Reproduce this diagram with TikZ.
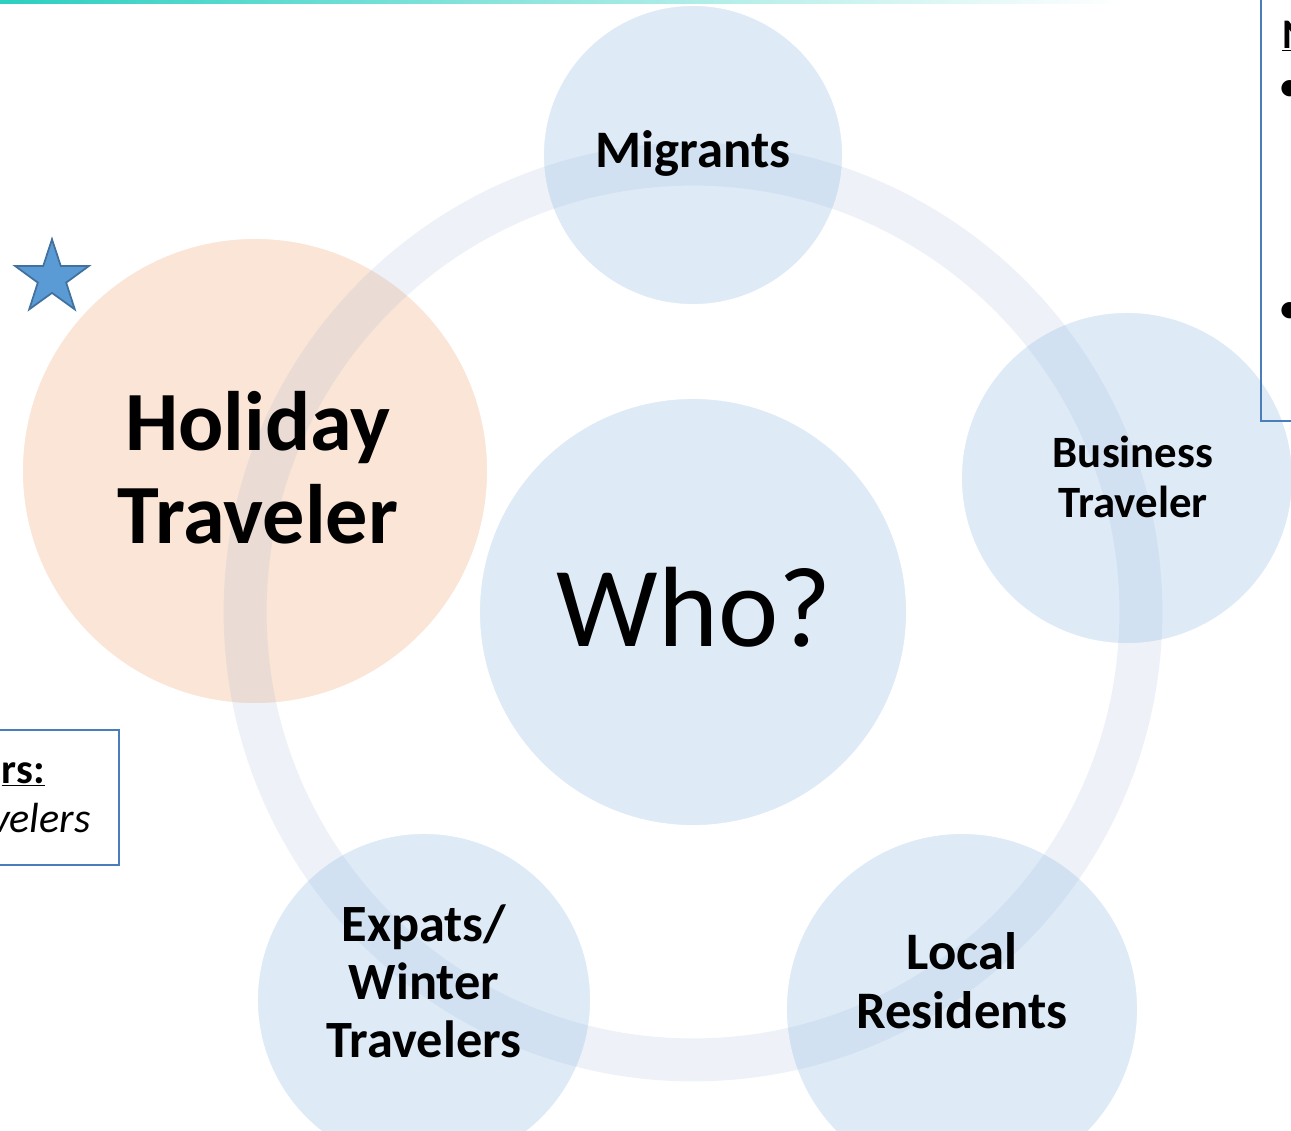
\documentclass[tikz,border=0pt]{standalone}
\usepackage{fontspec}
\setmainfont{Carlito}
\usetikzlibrary{shapes.geometric}
\definecolor{whoblue}{HTML}{DEEBF7}
\definecolor{whopeach}{HTML}{FBE5D6}
\definecolor{whoring}{HTML}{8EA8D0}
\definecolor{whoedge}{HTML}{4A7EBB}
\definecolor{whostar}{HTML}{5B9BD5}
\definecolor{whostardk}{HTML}{41719C}
\definecolor{whoteal}{HTML}{2CCFC0}

\begin{document}
\begin{tikzpicture}[x=0.02cm,y=-0.02cm,
    bub/.style={circle,draw=white,line width=1pt,fill=whoblue,inner sep=0pt},
    lbl/.style={align=center,inner sep=0pt},
    note/.style={draw=whoedge,line width=0.8pt},
    fs/.style 2 args={font=\bfseries\fontsize{#1}{#2}\selectfont}]
  \useasboundingbox (0,0) rectangle (1291,1130);
  \clip (0,0) rectangle (1291,1130);
  \shade[left color=whoteal,right color=white] (0,0) rectangle (1120,3);

  % the six bubbles, then the ring laid over them
  \node[bub,minimum size=8.56cm] (who) at (693,612) {};
  \node[bub,minimum size=6cm] (mig) at (693,155) {};
  \node[bub,minimum size=6.64cm] (bus) at (1127,478) {};
  \node[bub,minimum size=7.04cm] (loc) at (962,1009) {};
  \node[bub,minimum size=6.68cm] (exp) at (424,1000) {};
  \node[bub,fill=whopeach,minimum size=9.32cm] (hol) at (255,471) {};
  \draw[whoring,opacity=0.15,line width=0.86cm] (who.center) circle[radius=8.96cm];

  \node[lbl,font=\fontsize{65}{72}\selectfont] (whot) at (694,607) {Who?};
  \node[lbl,fs={30}{34}] (migt) at (693,153) {Migrants};
  \node[lbl,fs={25.5}{28}] (bust) at (1133,477) {Business\\Traveler};
  \node[lbl,fs={30}{33.5}] (loct) at (962,981) {Local\\Residents};
  \node[lbl,fs={29.8}{33}] (expt) at (424,981) {Expats/\\Winter\\Travelers};
  \node[lbl,fs={48}{53}] (holt) at (258,468) {Holiday\\Traveler};

  \node[star,star points=5,star point ratio=2.6,minimum size=1.55cm,inner sep=0pt,
        fill=whostar,draw=whostardk,line width=1pt] (star) at (52,278) {};

  % side notes, cut by the page edge
  \draw[note] (-10,730) rectangle (119,865);
  \node[anchor=base east,inner sep=0pt,fs={24}{28}] (othr) at (45,783) {\underline{rs:}};
  \node[anchor=base east,inner sep=0pt,font=\itshape\fontsize{24}{28}\selectfont] (othl) at (91,832) {velers};
  \draw[note] (1261,-10) rectangle (1320,421);
  \node[anchor=base west,inner sep=0pt,fs={24}{28}] (noteh) at (1282,48) {\underline{N}};
  \node[anchor=west,inner sep=0pt,fs={22}{26}] (nb1) at (1280,90) {•};
  \node[anchor=west,inner sep=0pt,fs={22}{26}] (nb2) at (1280,312) {•};
\end{tikzpicture}
\end{document}
